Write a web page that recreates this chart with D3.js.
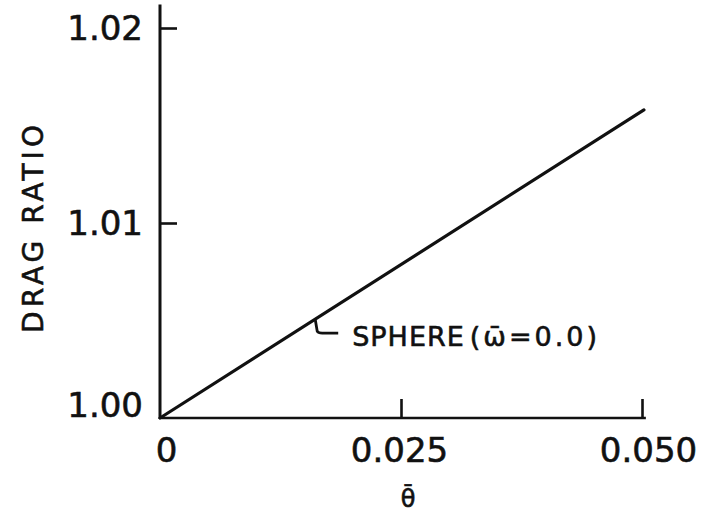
<!DOCTYPE html>
<html>
<head>
<meta charset="utf-8">
<script src="https://cdn.jsdelivr.net/npm/d3@7/dist/d3.min.js"></script>
<style>
  html, body { margin: 0; padding: 0; background: #fff; }
  svg { display: block; }
  text { font-family: "DejaVu Sans", sans-serif; fill: #111; stroke: #111; stroke-width: 0.6px; }
</style>
</head>
<body>
<svg id="chart" width="704" height="515"></svg>
<script>
// Drag ratio vs. theta-bar for a sphere (omega-bar = 0.0)
const thetaTicks = [0, 0.025, 0.050];
const thetaTickLabels = ["0", "0.025", "0.050"];
const ratioTicks = [1.00, 1.01, 1.02];
const ratioTickLabels = ["1.00", "1.01", "1.02"];

// the single straight curve
const sphereTheta = [0, 0.0502];
const sphereRatio = [1.000, 1.0158];

const annotationName = "SPHERE";
const annotationParam = "(ω\u0304=0.0)";
const annotationTheta = 0.0161;

const svg = d3.select("#chart");
const ink = "#111";

const x = d3.scaleLinear().domain([0, 0.05]).range([160, 642]);
const y = d3.scaleLinear().domain([1.00, 1.02]).range([418, 28]);

// axis lines (extend a little past the last ticks)
const xEnd = 0.0504, yEnd = 1.0212;
svg.append("line")
  .attr("x1", x(0)).attr("x2", x(0))
  .attr("y1", y(1.00) + 1).attr("y2", y(yEnd))
  .attr("stroke", ink).attr("stroke-width", 3);
svg.append("line")
  .attr("x1", x(0) - 1).attr("x2", x(xEnd))
  .attr("y1", y(1.00)).attr("y2", y(1.00))
  .attr("stroke", ink).attr("stroke-width", 2.6);

// y axis: inward ticks, labels on the left
const yAxis = d3.axisLeft(y)
  .tickValues(ratioTicks)
  .tickFormat((d, i) => ratioTickLabels[i])
  .tickSizeInner(-17).tickSizeOuter(0).tickPadding(17);
const gy = svg.append("g").attr("transform", `translate(${x(0)},0)`).call(yAxis);
gy.select(".domain").remove();
gy.selectAll(".tick line").attr("stroke", ink).attr("stroke-width", 2.6)
  .filter(d => d === 1.00).remove();
gy.selectAll(".tick text")
  .attr("font-family", "DejaVu Sans, sans-serif")
  .attr("font-size", 34).attr("fill", ink)
  .attr("dy", d => d === 1.00 ? "-0.05em" : "0.35em");

// x axis: inward ticks, labels below
const xAxis = d3.axisBottom(x)
  .tickValues(thetaTicks)
  .tickFormat((d, i) => thetaTickLabels[i])
  .tickSizeInner(-19).tickSizeOuter(0).tickPadding(20);
const gx = svg.append("g").attr("transform", `translate(0,${y(1.00)})`).call(xAxis);
gx.select(".domain").remove();
gx.selectAll(".tick line").attr("stroke", ink).attr("stroke-width", 2.6)
  .filter(d => d === 0).remove();
gx.selectAll(".tick text")
  .attr("font-family", "DejaVu Sans, sans-serif")
  .attr("font-size", 34).attr("fill", ink)
  .attr("dy", "0.71em")
  .attr("dx", d => d === 0 ? 6 : (d === 0.05 ? 6 : -2));

// axis titles
svg.append("text")
  .attr("transform", `translate(43,227) rotate(-90)`)
  .attr("text-anchor", "middle")
  .attr("font-size", 28)
  .attr("letter-spacing", 4)
  .text("DRAG RATIO");
svg.append("text")
  .attr("x", 408).attr("y", 507)
  .attr("text-anchor", "middle")
  .attr("font-size", 24)
  .text("θ\u0304");

// sphere curve
const pts = sphereTheta.map((t, i) => [t, sphereRatio[i]]);
svg.append("path")
  .datum(pts)
  .attr("d", d3.line().x(d => x(d[0])).y(d => y(d[1])))
  .attr("fill", "none").attr("stroke", ink)
  .attr("stroke-width", 3.2).attr("stroke-linecap", "round");

// leader from the curve to its label
const slope = (sphereRatio[1] - sphereRatio[0]) / (sphereTheta[1] - sphereTheta[0]);
const ax = x(annotationTheta), ay = y(sphereRatio[0] + slope * annotationTheta);
svg.append("path")
  .attr("d", `M${ax},${ay} L${ax + 2},${ay + 12} Q${ax + 3},${ay + 14} ${ax + 7},${ay + 14} L${ax + 23},${ay + 14}`)
  .attr("fill", "none").attr("stroke", ink).attr("stroke-width", 2.8);
const label = svg.append("text")
  .attr("x", ax + 37).attr("y", ay + 27)
  .attr("font-size", 27);
label.append("tspan").attr("letter-spacing", 1).text(annotationName);
label.append("tspan").attr("dx", 5).attr("letter-spacing", 3).text(annotationParam);
</script>
</body>
</html>
